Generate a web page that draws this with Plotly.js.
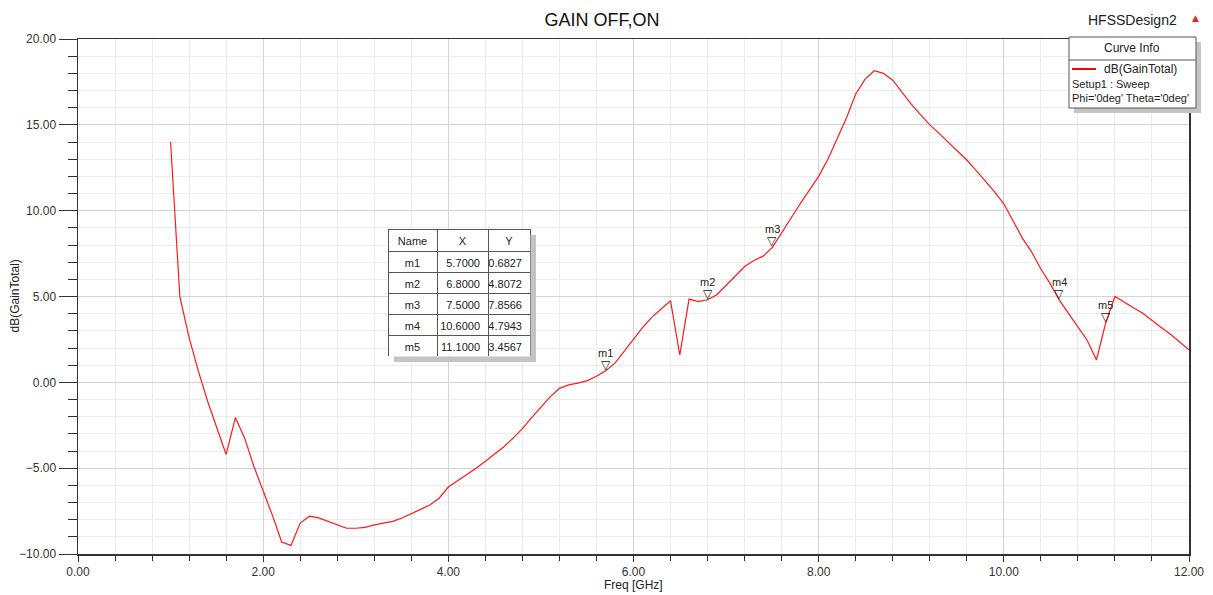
<!DOCTYPE html>
<html>
<head>
<meta charset="utf-8">
<script src="https://cdn.plot.ly/plotly-3.0.1.min.js"></script>
<style>html,body{margin:0;padding:0;background:#fff;}#chart{width:1213px;height:595px;}</style>
</head>
<body>
<div id="chart"></div>
<script>
// ---- data ----
const freq = [1.0,1.1,1.2,1.3,1.4,1.5,1.6,1.7,1.8,1.9,2.0,2.1,2.2,2.3,2.4,2.5,2.6,2.7,2.8,2.9,
  3.0,3.1,3.2,3.3,3.4,3.5,3.6,3.7,3.8,3.9,4.0,4.1,4.2,4.3,4.4,4.5,4.6,4.7,4.8,4.9,
  5.0,5.1,5.2,5.3,5.4,5.5,5.6,5.7,5.8,5.9,6.0,6.1,6.2,6.3,6.4,6.5,6.6,6.7,6.8,6.9,
  7.0,7.1,7.2,7.3,7.4,7.5,7.6,7.7,7.8,7.9,8.0,8.1,8.2,8.3,8.4,8.5,8.6,8.7,8.8,8.9,
  9.0,9.1,9.2,9.3,9.4,9.5,9.6,9.7,9.8,9.9,10.0,10.1,10.2,10.3,10.4,10.5,10.6,10.7,10.8,10.9,
  11.0,11.1,11.2,11.3,11.4,11.5,11.6,11.7,11.8,11.9,12.0];
const gainTotal = [14.0,5.0,2.6,0.65,-1.1,-2.7,-4.2,-2.05,-3.25,-4.9,-6.3,-7.75,-9.3,-9.5,-8.2,-7.8,-7.9,-8.1,-8.3,-8.5,
  -8.5,-8.45,-8.3,-8.2,-8.1,-7.9,-7.67,-7.4,-7.15,-6.75,-6.1,-5.75,-5.4,-5.0,-4.6,-4.2,-3.75,-3.25,-2.7,-2.05,
  -1.45,-0.85,-0.35,-0.15,-0.05,0.1,0.35,0.68,1.12,1.8,2.48,3.2,3.8,4.3,4.75,1.6,4.85,4.7,4.81,5.1,
  5.65,6.2,6.75,7.1,7.35,7.86,8.7,9.6,10.4,11.2,12.0,13.0,14.2,15.4,16.8,17.65,18.15,18.0,17.6,16.9,
  16.2,15.6,15.0,14.5,14.0,13.5,12.95,12.35,11.75,11.1,10.4,9.4,8.4,7.6,6.6,5.75,4.79,4.0,3.2,2.45,
  1.3,3.46,5.0,4.65,4.35,4.03,3.6,3.2,2.8,2.35,1.9];
const markerNames = ["m1","m2","m3","m4","m5"];
const markerX = [5.7, 6.8, 7.5, 10.6, 11.1];
const markerY = [0.6827, 4.8072, 7.8566, 4.7943, 3.4567];
const markerXText = ["5.7000","6.8000","7.5000","10.6000","11.1000"];
const markerYText = ["0.6827","4.8072","7.8566","4.7943","3.4567"];
const legendLines = ["dB(GainTotal)", "Setup1 : Sweep", "Phi='0deg' Theta='0deg'"];

// ---- layout helpers (pixel -> paper) ----
const L = 78, R = 1189, T = 39, B = 554;
const px = p => (p - L) / (R - L);
const py = p => (B - p) / (B - T);
const FONT = "Liberation Sans, Arial, sans-serif";

const traces = [
  {
    type: "scatter", mode: "lines", x: freq, y: gainTotal,
    line: {color: "#ff1a1a", width: 1.2}, hoverinfo: "x+y", showlegend: false
  },
  {
    type: "table",
    domain: {x: [px(388), px(530)], y: [py(356), py(229)]},
    columnwidth: [49, 51, 42],
    header: {
      values: ["Name", "X", "Y"], align: ["center","center","center"], height: 22,
      font: {family: FONT, size: 11, color: "#222"},
      fill: {color: "#fff"}, line: {color: "#555", width: 1}
    },
    cells: {
      values: [markerNames, markerXText, markerYText], align: ["center","right","right"], height: 21,
      font: {family: FONT, size: 11, color: "#222"},
      fill: {color: "#fff"}, line: {color: "#555", width: 1}
    }
  }
];

const annotations = [];
markerX.forEach((x, i) => {
  annotations.push({x: x, y: markerY[i], xref: "x", yref: "y", text: "▽", showarrow: false,
    yanchor: "bottom", yshift: -3, font: {family: "DejaVu Sans", size: 12, color: "#111"}});
  annotations.push({x: x, y: markerY[i], xref: "x", yref: "y", text: markerNames[i], showarrow: false,
    yanchor: "bottom", yshift: 10, font: {family: FONT, size: 11, color: "#222"}});
});
// legend box texts
annotations.push({x: px(1132), y: py(48), xref: "paper", yref: "paper", text: "Curve Info", showarrow: false,
  xanchor: "center", yanchor: "middle", font: {family: FONT, size: 12, color: "#222"}});
annotations.push({x: px(1102), y: py(69), xref: "paper", yref: "paper", text: legendLines[0], showarrow: false,
  xanchor: "left", yanchor: "middle", font: {family: FONT, size: 12, color: "#222"}});
annotations.push({x: px(1070), y: py(84), xref: "paper", yref: "paper", text: legendLines[1], showarrow: false,
  xanchor: "left", yanchor: "middle", font: {family: FONT, size: 11, color: "#222"}});
annotations.push({x: px(1070), y: py(98), xref: "paper", yref: "paper", text: legendLines[2], showarrow: false,
  xanchor: "left", yanchor: "middle", font: {family: FONT, size: 11, color: "#222"}});
// top right labels
annotations.push({x: px(1132), y: py(20), xref: "paper", yref: "paper", text: "HFSSDesign2", showarrow: false,
  xanchor: "center", yanchor: "middle", font: {family: FONT, size: 14, color: "#222"}});
annotations.push({x: px(1195), y: py(18), xref: "paper", yref: "paper", text: "▲", showarrow: false,
  xanchor: "center", yanchor: "middle", font: {family: "DejaVu Sans", size: 9, color: "#d03030"}});
// axis titles
annotations.push({x: px(14), y: 0.5, xref: "paper", yref: "paper", text: "dB(GainTotal)", showarrow: false,
  textangle: -90, xanchor: "center", yanchor: "middle", font: {family: FONT, size: 12, color: "#222"}});
annotations.push({x: 0.5, y: py(585), xref: "paper", yref: "paper", text: "Freq [GHz]", showarrow: false,
  xanchor: "center", yanchor: "middle", font: {family: FONT, size: 12, color: "#222"}});

const SH = "#c4c4c4";
const shapes = [
  // table shadow (right and bottom strips)
  {type: "rect", xref: "paper", yref: "paper", x0: px(530.5), x1: px(536), y0: py(362), y1: py(235),
    fillcolor: SH, line: {width: 0}, layer: "above"},
  {type: "rect", xref: "paper", yref: "paper", x0: px(394), x1: px(536), y0: py(362), y1: py(356.5),
    fillcolor: SH, line: {width: 0}, layer: "above"},
  // legend shadow
  {type: "rect", xref: "paper", yref: "paper", x0: px(1074), x1: px(1201), y0: py(113), y1: py(42),
    fillcolor: SH, line: {width: 0}, layer: "above"},
  // legend box
  {type: "rect", xref: "paper", yref: "paper", x0: px(1069), x1: px(1196), y0: py(108), y1: py(37),
    fillcolor: "#ffffff", line: {color: "#555", width: 1}, layer: "above"},
  {type: "line", xref: "paper", yref: "paper", x0: px(1069), x1: px(1196), y0: py(60), y1: py(60),
    line: {color: "#555", width: 1}, layer: "above"},
  {type: "line", xref: "paper", yref: "paper", x0: px(1072), x1: px(1096), y0: py(69), y1: py(69),
    line: {color: "#ff0000", width: 2}, layer: "above"}
];

const layout = {
  width: 1213, height: 595,
  margin: {l: L, r: 1213 - R, t: T, b: 595 - B},
  paper_bgcolor: "#fff", plot_bgcolor: "#fff",
  showlegend: false,
  title: {text: "GAIN OFF,ON", x: 602 / 1213, xref: "container", xanchor: "center",
    y: 1 - 20 / 595, yref: "container", yanchor: "middle",
    font: {family: FONT, size: 18, color: "#111"}},
  xaxis: {
    range: [0, 12], dtick: 2, tick0: 0, tickformat: ".2f",
    ticks: "outside", ticklen: 6, tickcolor: "#333", tickwidth: 1,
    showline: true, mirror: true, linecolor: "#333", linewidth: 1.5,
    showgrid: true, gridcolor: "#d4d4d4", gridwidth: 1, zeroline: false,
    tickfont: {family: FONT, size: 12, color: "#333"},
    minor: {dtick: 0.4, ticks: "outside", ticklen: 5, tickcolor: "#333", showgrid: true, gridcolor: "#ececec"}
  },
  yaxis: {
    range: [-10, 20], dtick: 5, tick0: 0, tickformat: ".2f",
    ticks: "outside", ticklen: 18, tickcolor: "#333", tickwidth: 1,
    showline: true, mirror: true, linecolor: "#333", linewidth: 1.5,
    showgrid: true, gridcolor: "#d4d4d4", gridwidth: 1, zeroline: false,
    tickfont: {family: FONT, size: 12, color: "#333"},
    minor: {dtick: 1, ticks: "outside", ticklen: 9, tickcolor: "#333", showgrid: true, gridcolor: "#ececec"}
  },
  annotations: annotations,
  shapes: shapes
};

Plotly.newPlot("chart", traces, layout, {displayModeBar: false, staticPlot: true});
</script>
</body>
</html>
